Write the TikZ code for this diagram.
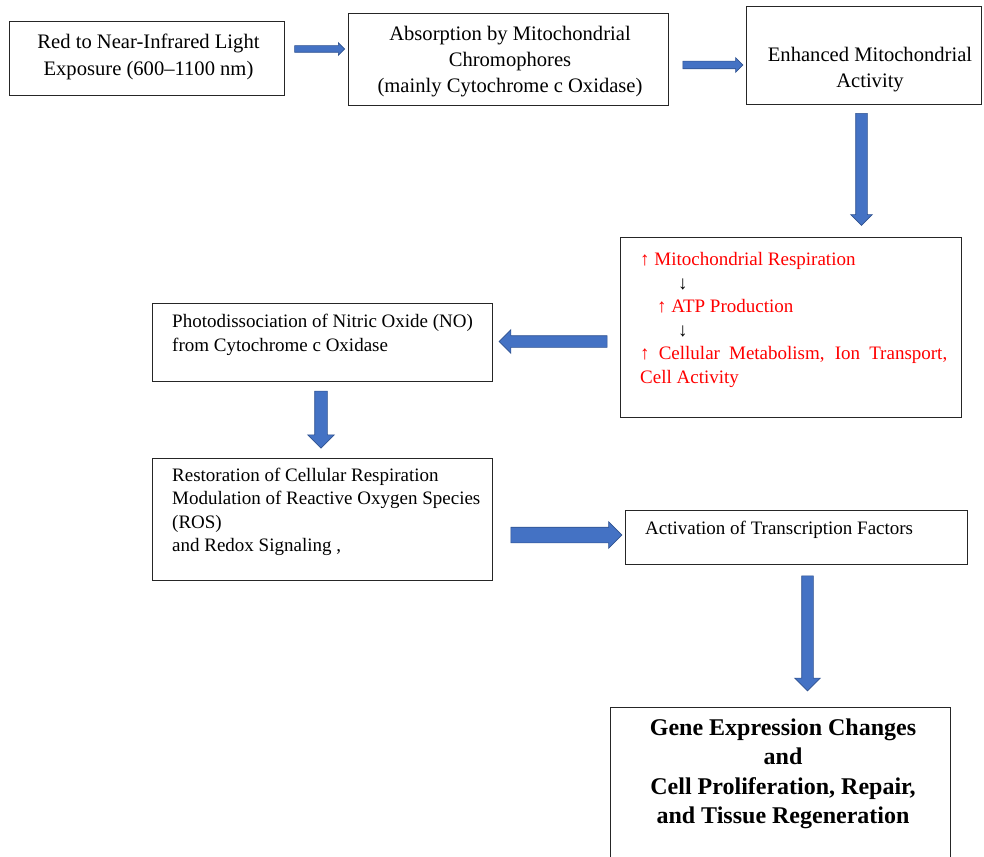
\documentclass[tikz,border=0pt]{standalone}
\usepackage{fontspec}
\setmainfont{Liberation Serif}
\usetikzlibrary{shapes.arrows,calc}

\definecolor{arrowfill}{HTML}{4472C4}
\definecolor{arrowedge}{HTML}{2F528F}

\tikzset{
  stepbox/.style={draw=black!85, line width=1pt, inner sep=0pt},
  txt/.style={inner sep=0pt},
  fatarrow/.style={single arrow, draw=arrowedge, fill=arrowfill, line width=0.6pt,
    inner xsep=0pt, single arrow head indent=0pt}
}

\begin{document}
\begin{tikzpicture}[x=1pt,y=-1pt]
    \useasboundingbox (0,0) rectangle (984,856);

    % Light exposure
    \node[stepbox, minimum width=275, minimum height=74] (expo) at (146.5,59) {};
    \node[txt, align=center, font=\fontsize{20.6}{26.3}\selectfont] (expoT) at (148.5,57)
      {Red to Near-Infrared Light\\Exposure (600--1100 nm)};

    % Absorption
    \node[stepbox, minimum width=320, minimum height=92] (absorb) at (508,60) {};
    \node[txt, align=center, font=\fontsize{20.6}{26.3}\selectfont] (absorbT) at (510,61.5)
      {Absorption by Mitochondrial\\Chromophores\\(mainly Cytochrome c Oxidase)};

    % Enhanced activity
    \node[stepbox, minimum width=235, minimum height=98] (enhance) at (863.5,56) {};
    \node[txt, align=center, font=\fontsize{20.6}{26.3}\selectfont] (enhanceT) at (870,69.5)
      {Enhanced Mitochondrial\\Activity};

    % Respiration chain (red)
    \node[stepbox, minimum width=341, minimum height=180] (resp) at (790.5,327) {};
    \node[txt, anchor=west, align=left, text=red, font=\fontsize{19}{23.6}\selectfont] (respT) at (640,320)
      {↑ Mitochondrial Respiration\\
       \hspace*{38pt}{\color{black}↓}\\
       \hspace*{17pt}↑ ATP Production\\
       \hspace*{38pt}{\color{black}↓}\\
       \makebox[307pt][s]{↑ Cellular Metabolism, Ion Transport,}\\
       Cell Activity};

    % Photodissociation of NO
    \node[stepbox, minimum width=340, minimum height=78] (photo) at (322,342) {};
    \node[txt, anchor=west, align=left, font=\fontsize{19}{24}\selectfont] (photoT) at (172,335)
      {Photodissociation of Nitric Oxide (NO)\\from Cytochrome c Oxidase};

    % Restoration / ROS
    \node[stepbox, minimum width=340, minimum height=122] (restore) at (322,519) {};
    \node[txt, anchor=west, align=left, font=\fontsize{19}{23.3}\selectfont] (restoreT) at (172,512)
      {Restoration of Cellular Respiration\\Modulation of Reactive Oxygen Species\\(ROS)\\and Redox Signaling ,};

    % Transcription factors
    \node[stepbox, minimum width=342, minimum height=54] (transc) at (796,537) {};
    \node[txt, anchor=west, font=\fontsize{19}{23.3}\selectfont] (transcT) at (645,530)
      {Activation of Transcription Factors};

    % Gene expression (runs off the page)
    \node[stepbox, minimum width=340, minimum height=163] (gene) at (780,788.5) {};
    \node[txt, align=center, font=\bfseries\fontsize{24}{29.5}\selectfont] (geneT) at (783,774)
      {Gene Expression Changes\\and\\Cell Proliferation, Repair,\\and Tissue Regeneration};

    % Block arrows
    \node[fatarrow, minimum height=50, inner ysep=3, single arrow head extend=3] (a1)
      at ($(expo.east)!.5!(absorb.west)+(2,-10.5)$) {};
    \node[fatarrow, minimum height=60, inner ysep=3.5, single arrow head extend=3.5] (a2)
      at ($(absorb.east)!.5!(enhance.west)+(4,7)$) {};
    \node[fatarrow, minimum height=112, inner ysep=5.5, single arrow head extend=5, rotate=-90] (a3)
      at ($(enhance.south)+(-2,61)$) {};
    \node[fatarrow, minimum height=108, inner ysep=5.5, single arrow head extend=6, rotate=180] (a4)
      at ($(resp.west)!.5!(photo.east)+(0,7)$) {};
    \node[fatarrow, minimum height=57, inner ysep=6, single arrow head extend=7, rotate=-90] (a5)
      at ($(photo.south)!.5!(restore.north)+(-1,-3)$) {};
    \node[fatarrow, minimum height=111, inner ysep=7.5, single arrow head extend=5.5] (a6)
      at ($(restore.east)!.5!(transc.west)+(4,7)$) {};
    \node[fatarrow, minimum height=115, inner ysep=5.5, single arrow head extend=7, rotate=-90] (a7)
      at ($(transc.south)!.5!(gene.north)+(19.5,-5)$) {};

\end{tikzpicture}
\end{document}
